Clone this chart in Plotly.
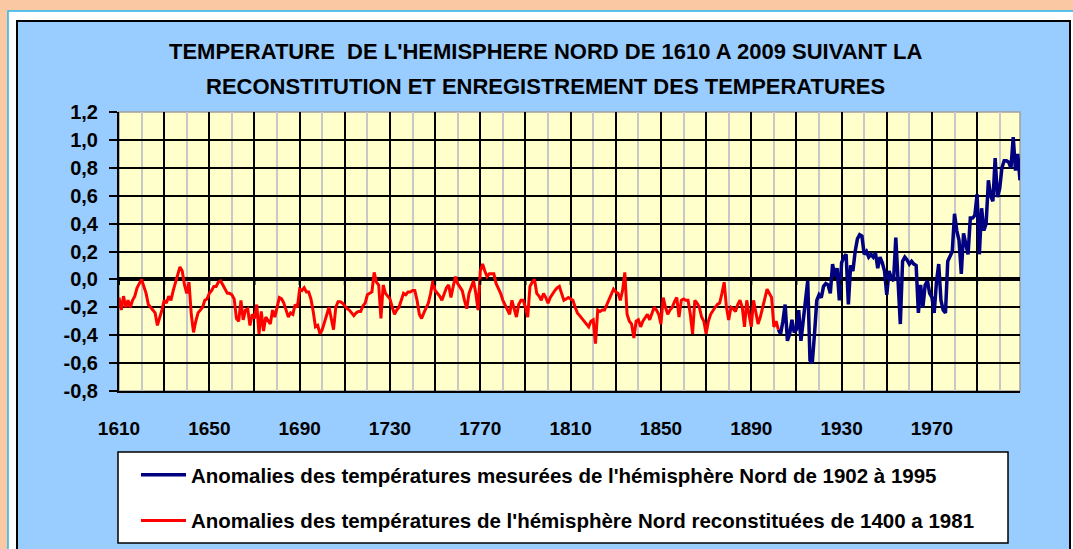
import plotly.graph_objects as go

# ---------------- data ----------------
red_years = list(range(1610, 1903))
red_values = [
    -0.13, -0.22, -0.12, -0.20, -0.15, -0.20, -0.15, -0.12, -0.06, -0.03,   # 1610-1619
     0.00, -0.05, -0.10, -0.18, -0.20, -0.22, -0.24, -0.33, -0.28, -0.22,   # 1620-1629
    -0.15, -0.17, -0.12, -0.15, -0.08, -0.02,  0.05,  0.09,  0.06, -0.04,   # 1630-1639
    -0.10, -0.02, -0.25, -0.38, -0.30, -0.24, -0.22, -0.20, -0.15, -0.14,   # 1640-1649
    -0.10, -0.08, -0.05, -0.05, -0.02, -0.01, -0.04, -0.07, -0.10, -0.10,   # 1650-1659
    -0.11, -0.14, -0.28, -0.30, -0.15, -0.29, -0.22, -0.21, -0.33, -0.25,   # 1660-1669
    -0.28, -0.18, -0.39, -0.23, -0.37, -0.27, -0.30, -0.32, -0.22, -0.27,   # 1670-1679
    -0.20, -0.13, -0.14, -0.17, -0.22, -0.27, -0.24, -0.25, -0.18, -0.20,   # 1680-1689
    -0.07, -0.08, -0.06, -0.09, -0.09, -0.14, -0.23, -0.34, -0.33, -0.39,   # 1690-1699
    -0.36, -0.30, -0.25, -0.20, -0.28, -0.36, -0.20, -0.16, -0.16, -0.17,   # 1700-1709
    -0.19, -0.21, -0.22, -0.24, -0.26, -0.24, -0.23, -0.23, -0.19, -0.17,   # 1710-1719
    -0.11, -0.10, -0.09,  0.05, -0.02, -0.04, -0.28, -0.04, -0.10, -0.12,   # 1720-1729
    -0.14, -0.20, -0.25, -0.22, -0.20, -0.15, -0.10, -0.11, -0.09, -0.09,   # 1730-1739
    -0.08, -0.08, -0.15, -0.25, -0.28, -0.24, -0.20, -0.17, -0.10, -0.01,   # 1740-1749
    -0.08, -0.10, -0.12, -0.15, -0.10, -0.06, -0.04, -0.13, -0.05,  0.02,   # 1750-1759
    -0.03, -0.06, -0.08, -0.15, -0.21, -0.10, -0.05, -0.01, -0.10, -0.22,   # 1760-1769
     0.06,  0.11,  0.06,  0.02,  0.04,  0.04,  0.04, -0.03, -0.06, -0.10,   # 1770-1779
    -0.15, -0.18, -0.21, -0.25, -0.15, -0.22, -0.27, -0.18, -0.15, -0.15,   # 1780-1789
    -0.20, -0.27, -0.05, -0.02,  0.00, -0.10, -0.12, -0.15, -0.10, -0.13,   # 1790-1799
    -0.17, -0.13, -0.10, -0.08, -0.06, -0.05, -0.10, -0.15, -0.14, -0.13,   # 1800-1809
    -0.14, -0.15, -0.20, -0.24, -0.26, -0.28, -0.30, -0.32, -0.34, -0.30,   # 1810-1819
    -0.29, -0.46, -0.22, -0.23, -0.22, -0.22, -0.18, -0.15, -0.10, -0.07,   # 1820-1829
    -0.09, -0.10, -0.15, -0.08,  0.05, -0.25, -0.30, -0.32, -0.42, -0.30,   # 1830-1839
    -0.29, -0.34, -0.30, -0.27, -0.25, -0.29, -0.25, -0.20, -0.22, -0.25,   # 1840-1849
    -0.32, -0.13, -0.20, -0.25, -0.22, -0.20, -0.16, -0.13, -0.27, -0.15,   # 1850-1859
    -0.14, -0.15, -0.15, -0.25, -0.39, -0.15, -0.17, -0.20, -0.27, -0.30,   # 1860-1869
    -0.39, -0.30, -0.25, -0.22, -0.20, -0.18, -0.17, -0.10, -0.02, -0.20,   # 1870-1879
    -0.29, -0.20, -0.21, -0.23, -0.18, -0.15, -0.20, -0.34, -0.15, -0.25,   # 1880-1889
    -0.34, -0.15, -0.25, -0.32, -0.27, -0.20, -0.15, -0.07, -0.10, -0.13,   # 1890-1899
    -0.34, -0.30, -0.36,                                                    # 1900-1902
]

blue_years = list(range(1902, 2010))
blue_values = [
    -0.36, -0.39, -0.30, -0.18, -0.44, -0.39, -0.29, -0.38,                 # 1902-1909
    -0.36, -0.22, -0.44, -0.30, -0.15, -0.01, -0.58, -0.60, -0.39, -0.15,   # 1910-1919
    -0.11, -0.13, -0.05, -0.03, -0.04, -0.10,  0.11,  0.02,  0.08, -0.15,   # 1920-1929
     0.12,  0.16,  0.18, -0.18,  0.10,  0.06,  0.20,  0.29,  0.32,  0.31,   # 1930-1939
     0.18,  0.20,  0.16,  0.18,  0.16,  0.19,  0.08,  0.16,  0.12,  0.06,   # 1940-1949
    -0.11,  0.06,  0.01, -0.01,  0.30, -0.05, -0.32,  0.13,  0.16,  0.14,   # 1950-1959
     0.11,  0.13,  0.11,  0.10, -0.24, -0.04, -0.20, -0.04, -0.01, -0.10,   # 1960-1969
    -0.13, -0.24, -0.02,  0.11, -0.15, -0.22, -0.24,  0.13,  0.16,  0.20,   # 1970-1979
     0.47,  0.35,  0.28,  0.04,  0.33,  0.25,  0.18,  0.44,  0.44,  0.46,   # 1980-1989
     0.61,  0.18,  0.51,  0.35,  0.40,  0.71,  0.60,  0.56,  0.87,  0.59,   # 1990-1999
     0.65,  0.80,  0.85,  0.85,  0.84,  0.80,  1.02,  0.78,  0.90,  0.71,   # 2000-2009
]

blue_name = "Anomalies des températures mesurées de l'hémisphère Nord de 1902 à 1995"
red_name = "Anomalies des températures de l'hémisphère Nord reconstituées de 1400 a 1981"

title_lines = [
    "TEMPERATURE  DE L'HEMISPHERE NORD DE 1610 A 2009 SUIVANT LA",
    "RECONSTITUTION ET ENREGISTREMENT DES TEMPERATURES",
]

y_tick_vals = [-0.8, -0.6, -0.4, -0.2, 0.0, 0.2, 0.4, 0.6, 0.8, 1.0, 1.2]
y_tick_text = ["-0,8", "-0,6", "-0,4", "-0,2", "0,0", "0,2", "0,4", "0,6", "0,8", "1,0", "1,2"]

x_major_vals = list(range(1610, 2010, 20))
x_major_text = [str(v) if (v - 1610) % 40 == 0 else "" for v in x_major_vals]
x_minor_vals = list(range(1620, 2010, 20))

# ---------------- style ----------------
W, H = 1073, 549
L, R, T, B = 119, 53, 112, 158
PW, PH = W - L - R, H - T - B

ARIAL = "Liberation Sans, Arial, sans-serif"


def px(x):
    return (x - L) / PW


def py(y):
    return (H - B - y) / PH


fig = go.Figure()
fig.add_trace(go.Scatter(x=blue_years, y=blue_values, mode="lines", name=blue_name,
                         legendgroup="b", line=dict(color="#000080", width=3.5)))
fig.add_trace(go.Scatter(x=red_years, y=red_values, mode="lines", name=red_name,
                         legendgroup="r", line=dict(color="#FF0000", width=3)))

shapes = [
    # white frame with cyan edge
    dict(type="rect", xref="paper", yref="paper", x0=px(8), x1=px(1100), y0=py(11), y1=py(600),
         fillcolor="white", line=dict(color="#22B8EE", width=1.5), layer="below"),
    # blue chart area
    dict(type="rect", xref="paper", yref="paper", x0=px(17), x1=px(1070), y0=py(21), y1=py(600),
         fillcolor="#99CCFF", line=dict(color="black", width=2), layer="below"),
    # plot area
    dict(type="rect", xref="paper", yref="paper", x0=0, x1=1, y0=0, y1=1,
         fillcolor="#FFFFCC", line=dict(color="#A0A0A0", width=1.5), layer="below"),
    # legend box
    dict(type="rect", xref="paper", yref="paper", x0=px(118), x1=px(1008), y0=py(452), y1=py(543),
         fillcolor="white", line=dict(color="black", width=1.5), layer="below"),
]
# tick marks of the category axis, drawn on the zero line
for v in x_major_vals:
    shapes.append(dict(type="line", xref="x", yref="y", x0=v, x1=v, y0=0, y1=-0.04,
                       line=dict(color="black", width=2), layer="above"))

annotations = [
    dict(text="<b>%s</b>" % title_lines[0], xref="paper", yref="paper", x=px(545), y=py(52),
         xanchor="center", yanchor="middle", showarrow=False,
         font=dict(family=ARIAL, size=22, color="black")),
    dict(text="<b>%s</b>" % title_lines[1], xref="paper", yref="paper", x=px(545), y=py(86),
         xanchor="center", yanchor="middle", showarrow=False,
         font=dict(family=ARIAL, size=22, color="black")),
]

fig.update_layout(
    width=W, height=H, autosize=False,
    margin=dict(l=L, r=R, t=T, b=B, pad=0, autoexpand=False),
    paper_bgcolor="#FAC8A2",
    plot_bgcolor="rgba(0,0,0,0)",
    shapes=shapes,
    annotations=annotations,
    showlegend=True,
    legend=dict(x=px(136), y=py(455), xanchor="left", yanchor="top",
                bgcolor="rgba(0,0,0,0)", borderwidth=0,
                font=dict(family=ARIAL, size=20.5, color="black", weight="bold"),
                tracegroupgap=16, traceorder="grouped", itemwidth=45),
    xaxis=dict(range=[1610, 2009], tickmode="array", tickvals=x_major_vals, ticktext=x_major_text,
               showgrid=True, gridcolor="black", gridwidth=2,
               minor=dict(tickmode="array", tickvals=x_minor_vals, showgrid=True,
                          gridcolor="#C8C8C8", gridwidth=2),
               ticks="", showline=True, linecolor="black", linewidth=2,
               zeroline=False, ticklabelstandoff=19,
               tickfont=dict(family=ARIAL, size=19, color="black", weight="bold")),
    yaxis=dict(range=[-0.8, 1.2], tickmode="array", tickvals=y_tick_vals, ticktext=y_tick_text,
               showgrid=True, gridcolor="black", gridwidth=2,
               zeroline=True, zerolinecolor="black", zerolinewidth=3.5,
               ticks="outside", ticklen=8, tickwidth=2, tickcolor="black",
               showline=True, linecolor="black", linewidth=2,
               ticklabelstandoff=7,
               tickfont=dict(family=ARIAL, size=20, color="black", weight="bold")),
)

fig.write_html("out.html", config={"displayModeBar": False},
               post_script="document.body.style.margin='0';document.body.style.overflow='hidden';")
